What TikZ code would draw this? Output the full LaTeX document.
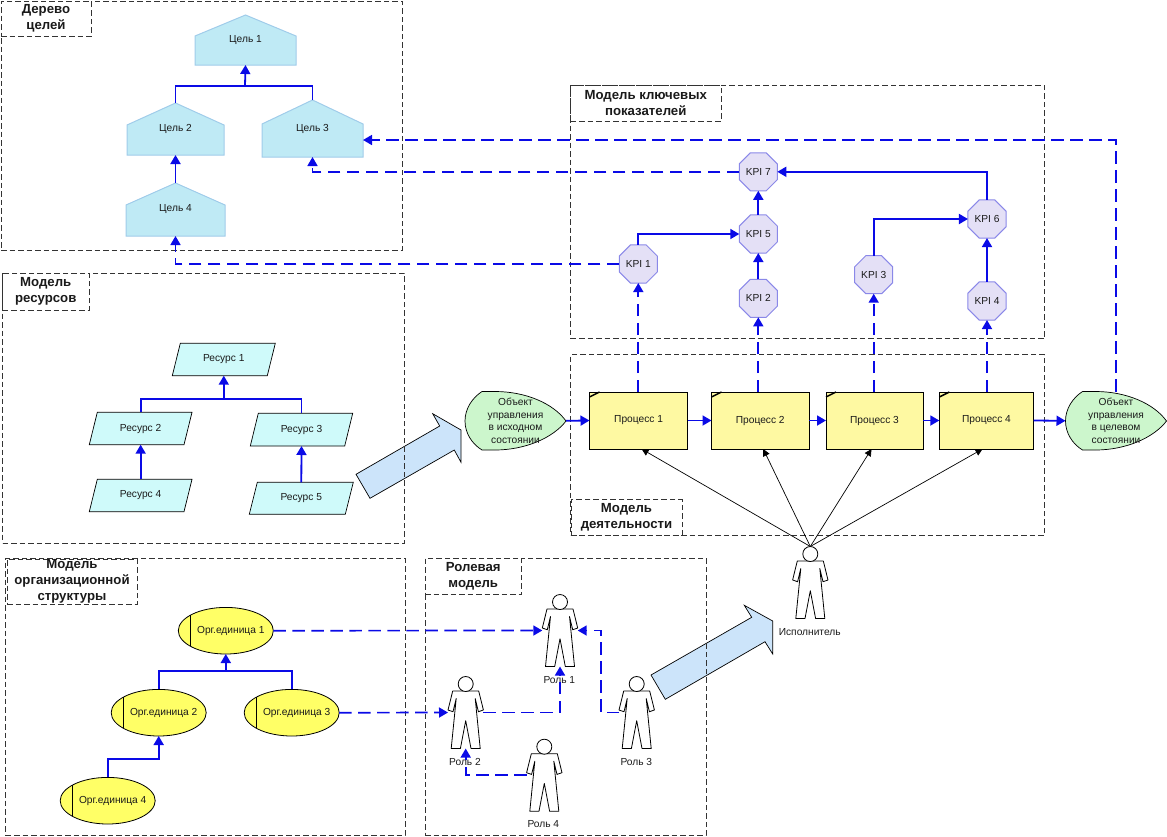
\documentclass[tikz,border=0pt]{standalone}
\usepackage{fontspec}
\setmainfont{Liberation Sans}
\usetikzlibrary{arrows.meta,shapes.geometric}
\definecolor{arblue}{HTML}{0A0AE6}
\definecolor{framegray}{HTML}{333333}
\definecolor{txt}{HTML}{1A1A1A}
\tikzset{
  x=1pt,y=-1pt,
  every node/.style={inner sep=0pt,outer sep=0pt,text=txt,font=\fontsize{10.2}{12.6}\selectfont},
  frameline/.style={draw=framegray,line width=.9pt,dash pattern=on 5.5pt off 3pt},
  titlebox/.style={frameline,fill=white,align=center,font=\fontsize{13.2}{16.3}\selectfont\bfseries},
  tipb/.style={-{Triangle[length=9pt,width=10pt]}},
  link/.style={draw=arblue,line width=1.8pt},
  dlink/.style={draw=arblue,line width=1.7pt,dash pattern=on 12.5pt off 6.5pt},
  goalshape/.style={fill=goalfill,draw=goalline,line width=1pt},
  resshape/.style={fill=resfill,draw=black,line width=.7pt},
  kpinode/.style={regular polygon,regular polygon sides=8,minimum size=41.2pt,fill=kpifill,draw=kpiline,line width=1pt},
  orgnode/.style={ellipse,minimum width=95pt,minimum height=46.6pt,fill=orgfill,draw=black,line width=.8pt},
  procnode/.style={rectangle,fill=procfill,draw=black,line width=.9pt,minimum height=57pt},
  objshape/.style={fill=objfill,draw=black,line width=.7pt},
  bigarrow/.style={fill=bigfill,draw=black,line width=.7pt,line join=miter},
  personshape/.style={fill=white,draw=black,line width=.8pt,line join=round},
  execlink/.style={draw=black,line width=.7pt,-{Triangle[length=7pt,width=7pt]}},
}
\definecolor{goalfill}{HTML}{BFEAF5}
\definecolor{goalline}{HTML}{A0CCEA}
\definecolor{resfill}{HTML}{CFFAFA}
\definecolor{kpifill}{HTML}{E4E0F6}
\definecolor{kpiline}{HTML}{8A88E8}
\definecolor{orgfill}{HTML}{FFFF66}
\definecolor{procfill}{HTML}{FEF9A2}
\definecolor{objfill}{HTML}{CCF6CC}
\definecolor{bigfill}{HTML}{CCE4FA}
% frame: x1 y1 x2 y2 name
\newcommand{\frameb}[5]{\node[frameline,rectangle,minimum width={(#3-#1)*1pt},minimum height={(#4-#2)*1pt}] (#5) at ({(#1+#3)/2},{(#2+#4)/2}) {};}
% title: x1 y1 x2 y2 name text
\newcommand{\titleb}[6]{\node[titlebox,rectangle,minimum width={(#3-#1)*1pt},minimum height={(#4-#2)*1pt}] (#5) at ({(#1+#3)/2},{(#2+#4)/2}) {#6};}
% goal: x1 x2 top shoulder bottom name text
\newcommand{\goalb}[7]{\draw[goalshape] (#1,#5) -- (#1,#4) -- ({(#1+#2)/2},#3) -- (#2,#4) -- (#2,#5) -- cycle;
  \node[rectangle,minimum width={(#2-#1)*1pt},minimum height={(#5-#3)*1pt}] (#6) at ({(#1+#2)/2},{(#3+#5)/2}) {#7};}
% resource
\newcommand{\resb}[6]{\draw[resshape] (#1,#4) -- ({#1+8},#3) -- (#2,#3) -- ({#2-8},#4) -- cycle;
  \node[rectangle,minimum width={(#2-#1)*1pt},minimum height={(#4-#3)*1pt}] (#5) at ({(#1+#2)/2},{(#3+#4)/2}) {#6};}
\newcommand{\orgb}[4]{\node[orgnode] (#1) at (#2,#3) {\makebox[0pt]{\hspace{10pt}#4}};
  \draw[black,line width=.8pt] ({#2-35.5},{#3-15.6}) -- ({#2-35.5},{#3+15.6});}
\newcommand{\procb}[4]{\node[procnode,minimum width={(#3-#2)*1pt}] (#1) at ({(#2+#3)/2},420.5) {#4};
  \draw[black,line width=1.5pt] (#2,397) -- ({#2+10},392);}
% object: left x, name, text
\newcommand{\objb}[3]{\draw[objshape] ({#1+17},391.5) -- ({#1+30},391.5) .. controls ({#1+60},391.5) and ({#1+88},403) .. ({#1+101},421) .. controls ({#1+88},438) and ({#1+60},450) .. ({#1+30},450) -- ({#1+17},450) .. controls ({#1+7},444) and (#1,433) .. (#1,421) .. controls (#1,409) and ({#1+7},398) .. ({#1+17},391.5) -- cycle;
  \node[rectangle,minimum width=101pt,minimum height=58.5pt,align=center] (#2) at ({#1+50.5},420.8) {#3};}
% person: head centre x y, name
\newcommand{\personb}[3]{\begin{scope}[shift={(#1,#2)}]
  \draw[personshape] (-13,7) -- (-17.7,26) -- (-12.7,27.7) -- (-9.5,14.5) -- (-14.5,64.5) -- (-5.3,64.5) -- (0,36.7) -- (5.3,64.5) -- (14.5,64.5) -- (9.5,14.5) -- (12.7,27.7) -- (17.7,26) -- (13,7) -- cycle;
  \draw[personshape] (0,0) circle (7.5);
  \end{scope}
  \node[rectangle,minimum width=35.4pt,minimum height=72pt] (#3) at (#1,{#2+28.5}) {};}
\begin{document}
\begin{tikzpicture}
\useasboundingbox (0,0) rectangle (1167,836);
% big arrows
\draw[bigarrow] (356,474.3) -- (439.7,426) -- (432.7,413.7) -- (461,430) -- (461,462.3) -- (454.3,450) -- (370,498.3) -- cycle;
\draw[bigarrow] (651,675) -- (751.7,617.3) -- (744.3,605.3) -- (772.7,621) -- (772.7,654) -- (765,641.7) -- (665.3,699.3) -- cycle;
% frames
\frameb{1}{1}{402}{250}{fgoal}
\frameb{570.5}{85.5}{1044.5}{338.5}{fkpi}
\frameb{2.5}{273}{404}{543}{fres}
\frameb{570.5}{354.5}{1044.5}{535}{fact}
\frameb{5.5}{558.5}{405}{835}{forg}
\frameb{425}{558}{706}{835}{frole}
\titleb{1}{1}{91}{36}{tgoal}{Дерево\\целей}
\titleb{570.5}{85.5}{721}{121}{tkpi}{Модель ключевых\\показателей}
\titleb{2.5}{273}{89}{310}{tres}{Модель\\ресурсов}
\titleb{571}{499.7}{682}{535}{tact}{Модель\\деятельности}
\titleb{7}{559}{137}{604}{torg}{Модель\\организационной\\структуры}
\titleb{425}{558}{521.5}{594}{trole}{Ролевая\\модель}
% goals
\goalb{195}{296}{15}{36}{65}{g1}{Цель 1}
\goalb{127}{224}{103}{125}{155}{g2}{Цель 2}
\goalb{262}{363}{100}{124}{157}{g3}{Цель 3}
\goalb{126}{225}{183}{205}{236}{g4}{Цель 4}
% resources
\resb{172.3}{275.3}{343.3}{375.7}{r1}{Ресурс 1}
\resb{89.3}{192}{412.3}{444.7}{r2}{Ресурс 2}
\resb{250.3}{352.7}{413.3}{446}{r3}{Ресурс 3}
\resb{89.3}{192}{479.3}{511.7}{r4}{Ресурс 4}
\resb{249.3}{353.3}{482.3}{514.3}{r5}{Ресурс 5}
% KPI
\node[kpinode] (k1) at (638.3,264) {KPI 1};
\node[kpinode] (k2) at (758.3,298.3) {KPI 2};
\node[kpinode] (k3) at (873.7,274.7) {KPI 3};
\node[kpinode] (k4) at (987,301) {KPI 4};
\node[kpinode] (k5) at (758.3,234) {KPI 5};
\node[kpinode] (k6) at (987,219) {KPI 6};
\node[kpinode] (k7) at (758.3,171.8) {KPI 7};
% processes
\procb{p1}{589.5}{687.7}{Процесс 1}
\procb{p2}{711.5}{809}{Процесс 2}
\procb{p3}{826}{923}{Процесс 3}
\procb{p4}{939.3}{1033.7}{Процесс 4}
% objects
\objb{465}{o1}{Объект\\управления\\в исходном\\состоянии}
\objb{1065.5}{o2}{Объект\\управления\\в целевом\\состоянии}
% org
\orgb{u1}{225.8}{630.7}{Орг.единица 1}
\orgb{u2}{158.7}{712.7}{Орг.единица 2}
\orgb{u3}{291.7}{712.7}{Орг.единица 3}
\orgb{u4}{107.7}{800.7}{Орг.единица 4}
% people
\personb{560}{602}{a1}
\personb{465.7}{684}{a2}
\personb{636.7}{684}{a3}
\personb{544.3}{746.7}{a4}
\personb{810.3}{554}{ex}
\node (la1) at (559.3,680) {Роль 1};
\node (la2) at (465,761.7) {Роль 2};
\node (la3) at (636.3,761.7) {Роль 3};
\node (la4) at (543.3,824) {Роль 4};
\node (lex) at (809.7,632) {Исполнитель};
% junctions
\coordinate (jg) at (245,86);
\coordinate (jr) at (223.8,399.3);
\coordinate (ju) at (225.8,671);
\coordinate (jt) at (363,140);
\coordinate (ja) at (601,630.5);
\coordinate (ju4) at (158.7,759);
% solid links
\draw[link] (g2.north) |- (jg);
\draw[link] (g3.north) |- (jg);
\draw[link,tipb] (jg) -- (g1.south);
\draw[link,tipb] (g4.north) -- (g2.south);
\draw[link] (r2.north) |- (jr);
\draw[link] (r3.north) |- (jr);
\draw[link,tipb] (jr) -- (r1.south);
\draw[link,tipb] (r4.north) -- (r2.south);
\draw[link,tipb] (r5.north) -- (r3.south);
\draw[link] (u2.north) |- (ju);
\draw[link] (u3.north) |- (ju);
\draw[link,tipb] (ju) -- (u1.south);
\draw[link,tipb] (u4.north) |- (ju4) -- (u2.south);
\draw[link,tipb] (k1.north) |- (k5.west);
\draw[link,tipb] (k2.north) -- (k5.south);
\draw[link,tipb] (k5.north) -- (k7.south);
\draw[link,tipb] (k3.north) |- (k6.west);
\draw[link,tipb] (k4.north) -- (k6.south);
\draw[link,tipb] (k6.north) |- (k7.east);
\draw[link,tipb] (o1.east) -- (p1.west);
\draw[link,tipb] (p1.east) -- (p2.west);
\draw[link,tipb] (p2.east) -- (p3.west);
\draw[link,tipb] (p3.east) -- (p4.west);
\draw[link,tipb] (p4.east) -- (o2.west);
% dashed links
\draw[dlink,tipb] (k1.west) -| (g4.south);
\draw[dlink,tipb] (k7.west) -| (g3.south);
\draw[dlink,tipb] (o2.north) |- (jt);
\draw[dlink,tipb] (p1.north -| k1.south) -- (k1.south);
\draw[dlink,tipb] (p2.north -| k2.south) -- (k2.south);
\draw[dlink,tipb] (p3.north -| k3.south) -- (k3.south);
\draw[dlink,tipb] (p4.north -| k4.south) -- (k4.south);
\draw[dlink,tipb] (u1.east) -- (a1.west);
\draw[dlink,tipb] (u3.east) -- (a2.west);
\draw[dlink,tipb] (a2.east) -| (a1.south);
\draw[dlink,tipb] (a3.west) -| (ja) -- (a1.east);
\draw[dlink,tipb] (a4.west) -| (a2.south);
% executor
\draw[execlink] (ex.north) -- ([xshift=3pt]p1.south);
\draw[execlink] (ex.north) -- ([xshift=3pt]p2.south);
\draw[execlink] (ex.north) -- ([xshift=-3pt]p3.south);
\draw[execlink] (ex.north) -- ([xshift=-4pt]p4.south);
\end{tikzpicture}
\end{document}
